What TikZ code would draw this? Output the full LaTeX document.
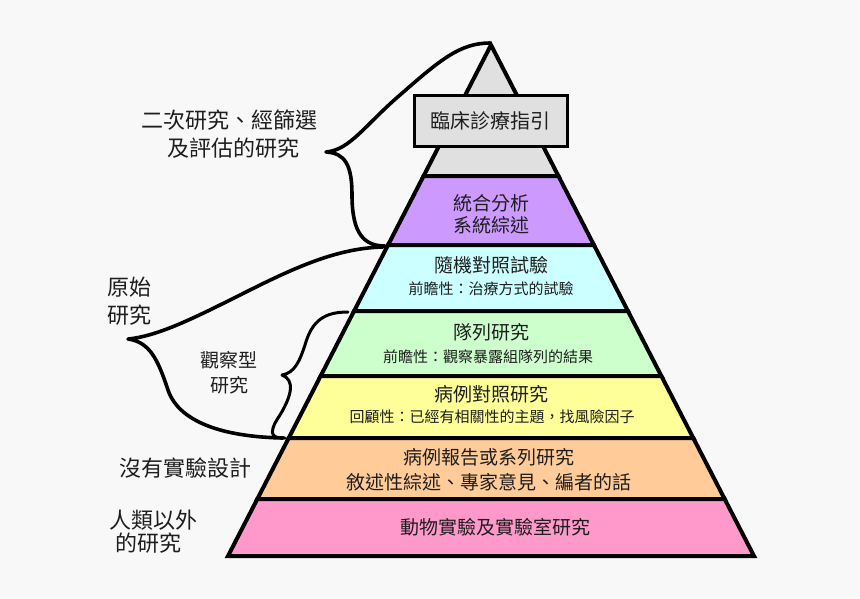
\documentclass[tikz,border=0pt]{standalone}
\usepackage{fontspec}
\setmainfont{Noto Sans CJK TC}
\definecolor{bg}{RGB}{248,248,248}
\definecolor{ink}{RGB}{30,30,30}
\definecolor{cgray}{RGB}{224,224,224}
\definecolor{cpurple}{RGB}{204,153,255}
\definecolor{ccyan}{RGB}{204,255,255}
\definecolor{cgreen}{RGB}{204,255,204}
\definecolor{cyellow}{RGB}{255,255,153}
\definecolor{corange}{RGB}{255,204,153}
\definecolor{cpink}{RGB}{255,153,204}
\begin{document}
\begin{tikzpicture}[x=1pt,y=-1pt,
  declare function={hw(\t)=0.5147*(\t-45);},
  band/.style={draw=black,line width=4pt,line join=miter},
  brace/.style={draw=black,line width=3.6pt,line cap=round,line join=round},
  smallbrace/.style={draw=black,line width=3pt,line cap=round,line join=round},
  big/.style={text=ink,font=\fontsize{22}{26}\selectfont,inner sep=0pt},
  mid/.style={text=ink,font=\fontsize{19}{23}\selectfont,inner sep=0pt},
  small/.style={text=ink,font=\fontsize{15}{18}\selectfont,inner sep=0pt}]
\useasboundingbox[fill=bg] (0,0) rectangle (860,598);
% pyramid bands
\path[band,fill=cgray] (491,45) -- ({491-hw(176)},176) -- ({491+hw(176)},176) -- cycle;
\path[band,fill=cpurple] ({491-hw(176)},176) -- ({491+hw(176)},176) -- ({491+hw(245)},245) -- ({491-hw(245)},245) -- cycle;
\path[band,fill=ccyan] ({491-hw(245)},245) -- ({491+hw(245)},245) -- ({491+hw(311)},311) -- ({491-hw(311)},311) -- cycle;
\path[band,fill=cgreen] ({491-hw(311)},311) -- ({491+hw(311)},311) -- ({491+hw(376)},376) -- ({491-hw(376)},376) -- cycle;
\path[band,fill=cyellow] ({491-hw(376)},376) -- ({491+hw(376)},376) -- ({491+hw(438)},438) -- ({491-hw(438)},438) -- cycle;
\path[band,fill=corange] ({491-hw(438)},438) -- ({491+hw(438)},438) -- ({491+hw(499)},499) -- ({491-hw(499)},499) -- cycle;
\path[band,fill=cpink] ({491-hw(499)},499) -- ({491+hw(499)},499) -- ({491+hw(556)},556) -- ({491-hw(556)},556) -- cycle;
% guideline box
\node[draw=black,line width=3pt,fill=cgray,minimum width=153pt,minimum height=51pt,inner sep=0pt,
  text=ink,font=\fontsize{20}{24}\selectfont] (guide) at (490.5,120.5) {臨床診療指引};
% band texts
\node[mid] (meta1) at (491,203) {統合分析};
\node[mid] (meta2) at (491,225) {系統綜述};
\node[mid] (rct) at (491,265) {隨機對照試驗};
\node[small] (rcts) at (491,289) {前瞻性：治療方式的試驗};
\node[mid] (coh) at (491,332) {隊列研究};
\node[small] (cohs) at (488,357) {前瞻性：觀察暴露組隊列的結果};
\node[mid] (cc) at (491,394) {病例對照研究};
\node[small] (ccs) at (492,417) {回顧性：已經有相關性的主題，找風險因子};
\node[mid] (case1) at (489,457) {病例報告或系列研究};
\node[mid] (case2) at (489,482) {敘述性綜述、專家意見、編者的話};
\node[mid] (anim) at (495,527) {動物實驗及實驗室研究};
% left labels
\node[big] (sec1) at (229,120) {二次研究、經篩選};
\node[big] (sec2) at (233,148) {及評估的研究};
\node[big] (orig1) at (129,287) {原始};
\node[big] (orig2) at (129,315) {研究};
\node[mid] (obs1) at (229,360) {觀察型};
\node[mid] (obs2) at (229,385) {研究};
\node[big] (nodes) at (185,468) {沒有實驗設計};
\node[big] (nonh1) at (153,520) {人類以外};
\node[big] (nonh2) at (148,543) {的研究};
% braces
\path[brace] (490,43) .. controls (460,43) and (440,60) .. (400,95)
  .. controls (365,125) and (350,150) .. (326,152)
  .. controls (345,153) and (352,165) .. (352,195)
  .. controls (352,235) and (365,246) .. (385,246);
\path[brace] (383,247) .. controls (340,248) and (300,265) .. (250,290)
  .. controls (200,315) and (160,336) .. (128,339)
  .. controls (150,342) and (158,360) .. (168,390)
  .. controls (180,425) and (230,437) .. (283,438);
\path[smallbrace] (348,312) .. controls (325,312) and (312,320) .. (305,345)
  .. controls (300,360) and (295,373) .. (282,375)
  .. controls (295,380) and (292,395) .. (280,415)
  .. controls (265,437) and (275,438) .. (285,438);
\end{tikzpicture}
\end{document}
